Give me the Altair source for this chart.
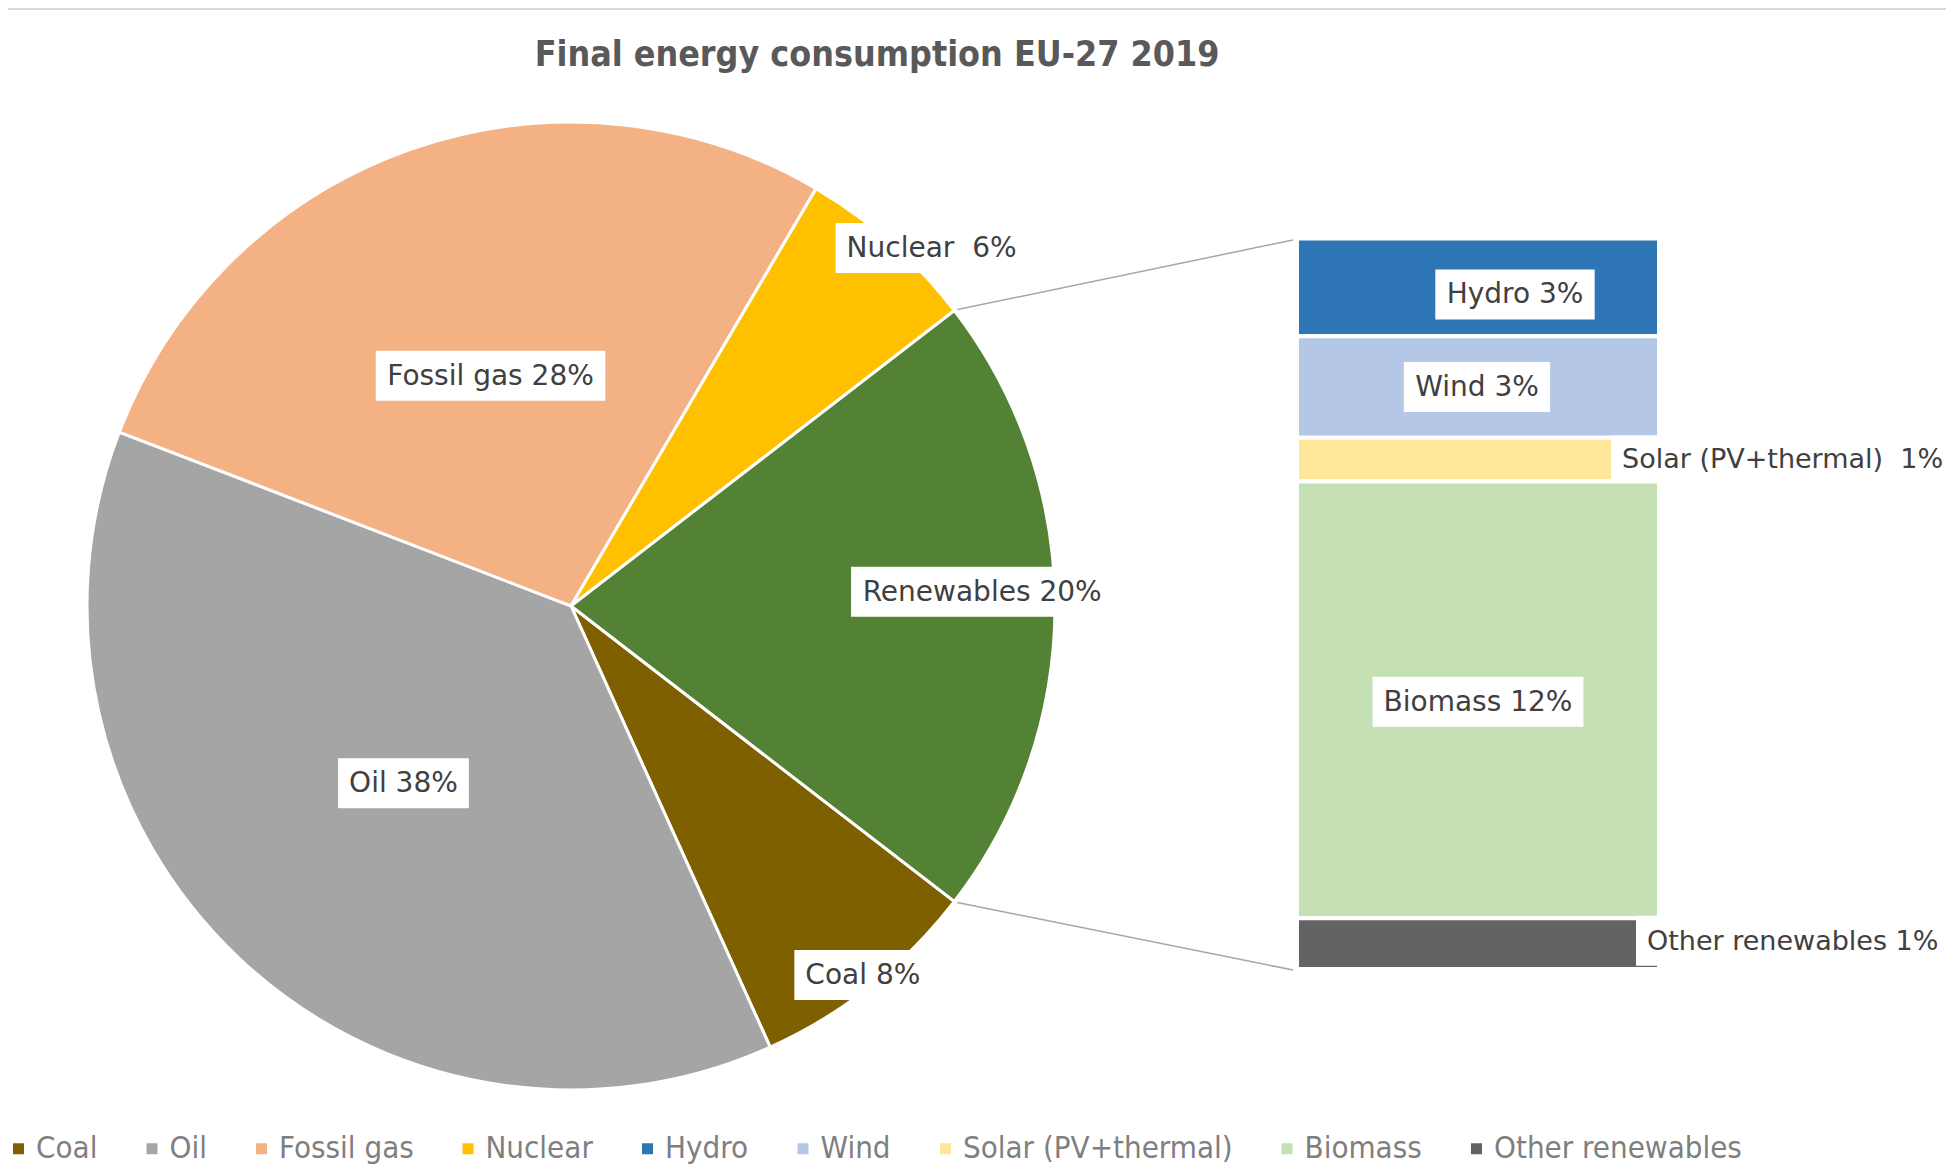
import math
import altair as alt
import pandas as pd

# ---------------- data ----------------
pie_labels = ["Coal", "Oil", "Fossil gas", "Nuclear", "Renewables"]
pie_values = [7.8, 37.6, 27.6, 6.1, 20.9]
pie_text = ["Coal 8%", "Oil 38%", "Fossil gas 28%", "Nuclear \u00a06%", "Renewables 20%"]

ren_labels = ["Hydro", "Wind", "Solar (PV+thermal)", "Biomass", "Other renewables"]
ren_values = [2.8, 2.9, 1.25, 12.5, 1.45]
ren_text = ["Hydro 3%", "Wind 3%", "Solar (PV+thermal) \u00a01%", "Biomass 12%", "Other renewables 1%"]

legend_order = ["Coal", "Oil", "Fossil gas", "Nuclear", "Hydro", "Wind",
                "Solar (PV+thermal)", "Biomass", "Other renewables"]
color_domain = pie_labels + ren_labels
color_range = ["#7F6000", "#A5A5A5", "#F4B183", "#FFC000", "#548235",
               "#2E75B6", "#B4C7E7", "#FFE699", "#C5E0B4", "#636363"]

# ---------------- style / layout ----------------
W, H = 1938, 1158
CX, CY, R = 563, 598, 484            # pie centre & radius (px)
LABEL_FONT = "DejaVu Sans"
LABEL_SIZE = 28
OUT_SIZE = 27
TEXT_COLOR = "#404040"
pie_label_r = [0.972, 0.504, 0.504, 1.05, 0.85]   # label distance (fraction of R)
pie_label_adj = [0, 0, 0, 3.8, -2]                 # degrees
BAR_X0, BAR_X1 = 1289, 1651
BAR_TOP, BAR_BOTTOM = 230.5, 961
ren_label_x = [1507, 1469, 1614, 1470, 1639]
ren_label_dy = [7, 0, -1, 2, -3]                   # px shift of label from segment middle
ren_label_align = ["center", "center", "left", "center", "left"]
ren_box_h = [50, 50, 46, 50, 50]

CW = {' ': .318, '\u00a0': .318, '%': .950, '(': .390, ')': .390, '+': .838, 'B': .686,
      'C': .698, 'F': .575, 'H': .752, 'N': .748, 'O': .787, 'P': .603, 'R': .695,
      'S': .635, 'V': .684, 'W': .989, 'a': .613, 'b': .635, 'c': .550, 'd': .635,
      'e': .615, 'g': .635, 'h': .634, 'i': .278, 'l': .278, 'm': .974, 'n': .634,
      'o': .612, 'r': .411, 's': .521, 't': .392, 'u': .634, 'w': .818, 'y': .592}


def text_w(s, fs=LABEL_SIZE):
    return sum(CW.get(c, 0.636) for c in s) * fs


def box_path(w, h):
    a, b = w / 100.0, h / 100.0
    return f"M{-a},{-b}L{a},{-b}L{a},{b}L{-a},{b}Z"


# ---------------- derived tables ----------------
total = sum(pie_values)
ren_total = pie_values[pie_labels.index("Renewables")]
start = math.pi / 2 + math.pi * ren_total / total   # renewables centred on the right

pie = pd.DataFrame({"cat": pie_labels, "value": pie_values, "idx": range(len(pie_labels))})

cum = 0.0
prow = []
for i, (v, t) in enumerate(zip(pie_values, pie_text)):
    mid = math.degrees(start) + (cum + v / 2) / total * 360 + pie_label_adj[i]
    cum += v
    r = pie_label_r[i] * R
    x = CX + r * math.sin(math.radians(mid))
    y = CY - r * math.cos(math.radians(mid))
    prow.append({"text": t, "x": x, "y": y,
                 "path": box_path(text_w(t) + 22, 50)})
pie_lab = pd.DataFrame(prow)

px_per_unit = (BAR_BOTTOM - BAR_TOP) / ren_total
ren = pd.DataFrame({"cat": ren_labels, "value": ren_values})
ren["y1"] = ren["value"].cumsum()
ren["y0"] = ren["y1"] - ren["value"]
ren["mid"] = (ren["y0"] + ren["y1"]) / 2 + pd.Series(ren_label_dy) / px_per_unit
ren["text"] = ren_text
ren["x"] = ren_label_x
ren["align"] = ren_label_align
bw = [text_w(t, LABEL_SIZE if a == "center" else OUT_SIZE) + 22
      for t, a in zip(ren_text, ren_label_align)]
ren["bx"] = [x if a == "center" else x - 11 + w / 2
             for x, a, w in zip(ren_label_x, ren_label_align, bw)]
ren["path"] = [box_path(w, h) for w, h in zip(bw, ren_box_h)]

# connector lines: pie edge of the renewables slice -> top / bottom of the bar
th_top = start - 2 * math.pi * ren_total / total
th_bot = start
conn = pd.DataFrame({
    "x": [CX + R * math.sin(th_top) + 3, CX + R * math.sin(th_bot) + 3],
    "y": [CY - R * math.cos(th_top) - 1, CY - R * math.cos(th_bot) + 1],
    "x2": [BAR_X0 - 4, BAR_X0 - 4],
    "y2": [BAR_TOP + 1.5, BAR_BOTTOM + 1],
})

color = alt.Color("cat:N", scale=alt.Scale(domain=color_domain, range=color_range),
                  legend=alt.Legend(orient="none", legendX=-5, legendY=1125,
                                    direction="horizontal", columns=9, title=None,
                                    values=legend_order, symbolType="square",
                                    symbolSize=121, symbolStrokeWidth=0,
                                    labelFont="DejaVu Sans Condensed",
                                    labelFontSize=31, labelColor="#7F7F7F",
                                    labelOffset=2, columnPadding=38.5, padding=0,
                                    labelLimit=0))

arcs = alt.Chart(pie).mark_arc(outerRadius=R, stroke="white", strokeWidth=3).encode(
    theta=alt.Theta("value:Q", stack=True,
                    scale=alt.Scale(range=[start, start + 2 * math.pi])),
    order=alt.Order("idx:Q"),
    color=color,
    x=alt.value(CX), y=alt.value(CY),
)

rules = alt.Chart(conn).mark_rule(color="#A6A6A6", strokeWidth=1.5).encode(
    x=alt.X("x:Q", scale=None), y=alt.Y("y:Q", scale=None),
    x2="x2:Q", y2="y2:Q",
)

yscale = alt.Scale(domain=[0, ren_total], range=[BAR_TOP, BAR_BOTTOM], zero=False, nice=False)

bars = alt.Chart(ren).mark_rect(stroke="white", strokeWidth=4).encode(
    x=alt.value(BAR_X0), x2=alt.value(BAR_X1),
    y=alt.Y("y0:Q", scale=yscale, axis=None), y2="y1:Q",
    color=color,
)

pie_boxes = alt.Chart(pie_lab).mark_point(filled=True, color="white", opacity=1,
                                          strokeWidth=0).encode(
    x=alt.X("x:Q", scale=None), y=alt.Y("y:Q", scale=None),
    shape=alt.Shape("path:N", scale=None), size=alt.value(10000),
)
pie_texts = alt.Chart(pie_lab).mark_text(font=LABEL_FONT, fontSize=LABEL_SIZE,
                                         color=TEXT_COLOR, baseline="middle",
                                         align="center", dy=1).encode(
    x=alt.X("x:Q", scale=None), y=alt.Y("y:Q", scale=None), text="text:N",
)

ren_boxes = alt.Chart(ren).mark_point(filled=True, color="white", opacity=1,
                                      strokeWidth=0).encode(
    x=alt.X("bx:Q", scale=None), y=alt.Y("mid:Q", scale=yscale, axis=None),
    shape=alt.Shape("path:N", scale=None), size=alt.value(10000),
)
ren_text_c = alt.Chart(ren).transform_filter(alt.datum.align == "center").mark_text(
    font=LABEL_FONT, fontSize=LABEL_SIZE, color=TEXT_COLOR, baseline="middle",
    align="center", dy=1).encode(
    x=alt.X("x:Q", scale=None), y=alt.Y("mid:Q", scale=yscale, axis=None), text="text:N",
)
ren_text_l = alt.Chart(ren).transform_filter(alt.datum.align == "left").mark_text(
    font=LABEL_FONT, fontSize=OUT_SIZE, color=TEXT_COLOR, baseline="middle",
    align="left", dy=1).encode(
    x=alt.X("x:Q", scale=None), y=alt.Y("mid:Q", scale=yscale, axis=None), text="text:N",
)

border = alt.Chart(pd.DataFrame({"y": [1]})).mark_rule(color="#D9D9D9", strokeWidth=2).encode(
    x=alt.value(0), x2=alt.value(W), y=alt.Y("y:Q", scale=None),
)

chart = alt.layer(
    border, arcs, rules, bars, pie_boxes, pie_texts, ren_boxes, ren_text_c, ren_text_l
).resolve_scale(x="independent", y="independent").properties(
    width=W, height=H,
    autosize=alt.AutoSizeParams(type="none"),
    padding=0,
    title=alt.TitleParams(text="Final energy consumption EU-27 2019",
                          font="DejaVu Sans Condensed", fontSize=35.5, fontWeight="bold",
                          color="#595959", anchor="middle", dx=-100, offset=-65),
).configure_view(stroke=None)

chart.save("out.html", embed_options={"renderer": "svg", "actions": False})
